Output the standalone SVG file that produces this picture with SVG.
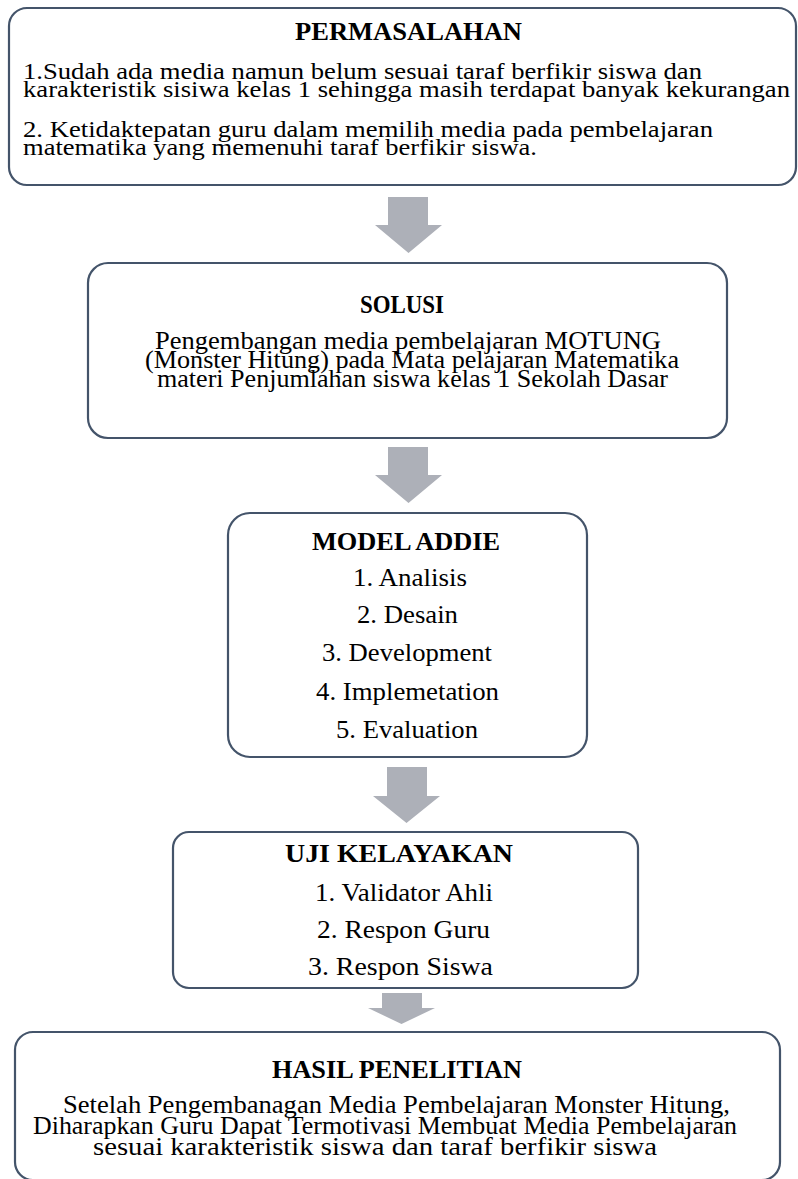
<svg xmlns="http://www.w3.org/2000/svg" width="798" height="1179" viewBox="0 0 798 1179">
<style>
.box{fill:#ffffff;stroke:#44546a;stroke-width:2.2}
.arr{fill:#adb0b8;stroke:none}
text{font-family:"Liberation Serif","Times New Roman",serif;fill:#000}
.h{font-weight:bold;font-size:26px}
.b1{font-size:22.5px}
.b{font-size:24.5px}
</style>
<rect width="798" height="1179" fill="#ffffff"/>
<g id="connectors">
<polygon class="arr" points="388,197 428,197 428,225 442,225 408.5,253 375,225 388,225"/>
<polygon class="arr" points="388,447 428,447 428,475 442,475 408.5,503 375,475 388,475"/>
<polygon class="arr" points="387,767 427,767 427,796 440,796 406.5,823 373,796 387,796"/>
<polygon class="arr" points="382,993 422,993 422,1008 435,1008 401.5,1024 368,1008 382,1008"/>
</g>
<g id="permasalahan">
<rect class="box" x="9" y="8" width="787" height="177" rx="18"/>
<text class="h" x="295" y="40" textLength="227" lengthAdjust="spacingAndGlyphs">PERMASALAHAN</text>
<text class="b1" x="23" y="79" textLength="679" lengthAdjust="spacingAndGlyphs">1.Sudah ada media namun belum sesuai taraf berfikir siswa dan</text>
<text class="b1" x="23" y="97" textLength="767" lengthAdjust="spacingAndGlyphs">karakteristik sisiwa kelas 1 sehingga masih terdapat banyak kekurangan</text>
<text class="b1" x="23" y="137" textLength="690" lengthAdjust="spacingAndGlyphs">2. Ketidaktepatan guru dalam memilih media pada pembelajaran</text>
<text class="b1" x="23" y="155" textLength="514" lengthAdjust="spacingAndGlyphs">matematika yang memenuhi taraf berfikir siswa.</text>
</g>
<g id="solusi">
<rect class="box" x="88" y="263" width="639" height="175" rx="20"/>
<text class="h" x="360" y="313" textLength="84" lengthAdjust="spacingAndGlyphs">SOLUSI</text>
<text class="b" x="155" y="349" textLength="506" lengthAdjust="spacingAndGlyphs">Pengembangan media pembelajaran MOTUNG</text>
<text class="b" x="145" y="368" textLength="534" lengthAdjust="spacingAndGlyphs">(Monster Hitung) pada Mata pelajaran Matematika</text>
<text class="b" x="157" y="387" textLength="511" lengthAdjust="spacingAndGlyphs">materi Penjumlahan siswa kelas 1 Sekolah Dasar</text>
</g>
<g id="model-addie">
<rect class="box" x="228" y="513" width="359" height="244" rx="22"/>
<text class="h" x="312" y="550" textLength="188" lengthAdjust="spacingAndGlyphs">MODEL ADDIE</text>
<text class="b" x="353" y="586" textLength="114" lengthAdjust="spacingAndGlyphs">1. Analisis</text>
<text class="b" x="357" y="623" textLength="101" lengthAdjust="spacingAndGlyphs">2. Desain</text>
<text class="b" x="322" y="661" textLength="170" lengthAdjust="spacingAndGlyphs">3. Development</text>
<text class="b" x="316" y="700" textLength="183" lengthAdjust="spacingAndGlyphs">4. Implemetation</text>
<text class="b" x="336" y="738" textLength="142" lengthAdjust="spacingAndGlyphs">5. Evaluation</text>
</g>
<g id="uji-kelayakan">
<rect class="box" x="173" y="832" width="465" height="156" rx="16"/>
<text class="h" x="285" y="862" textLength="228" lengthAdjust="spacingAndGlyphs">UJI KELAYAKAN</text>
<text class="b" x="315" y="901" textLength="178" lengthAdjust="spacingAndGlyphs">1. Validator Ahli</text>
<text class="b" x="317" y="938" textLength="173" lengthAdjust="spacingAndGlyphs">2. Respon Guru</text>
<text class="b" x="308" y="975" textLength="185" lengthAdjust="spacingAndGlyphs">3. Respon Siswa</text>
</g>
<g id="hasil-penelitian">
<rect class="box" x="15" y="1032" width="765" height="148" rx="18"/>
<text class="h" x="272" y="1078" textLength="250" lengthAdjust="spacingAndGlyphs">HASIL PENELITIAN</text>
<text class="b" x="63" y="1113" textLength="667" lengthAdjust="spacingAndGlyphs">Setelah Pengembanagan Media Pembelajaran Monster Hitung,</text>
<text class="b" x="33" y="1134" textLength="704" lengthAdjust="spacingAndGlyphs">Diharapkan Guru Dapat Termotivasi Membuat Media Pembelajaran</text>
<text class="b" x="93" y="1155" textLength="564" lengthAdjust="spacingAndGlyphs">sesuai karakteristik siswa dan taraf berfikir siswa</text>
</g>
</svg>
